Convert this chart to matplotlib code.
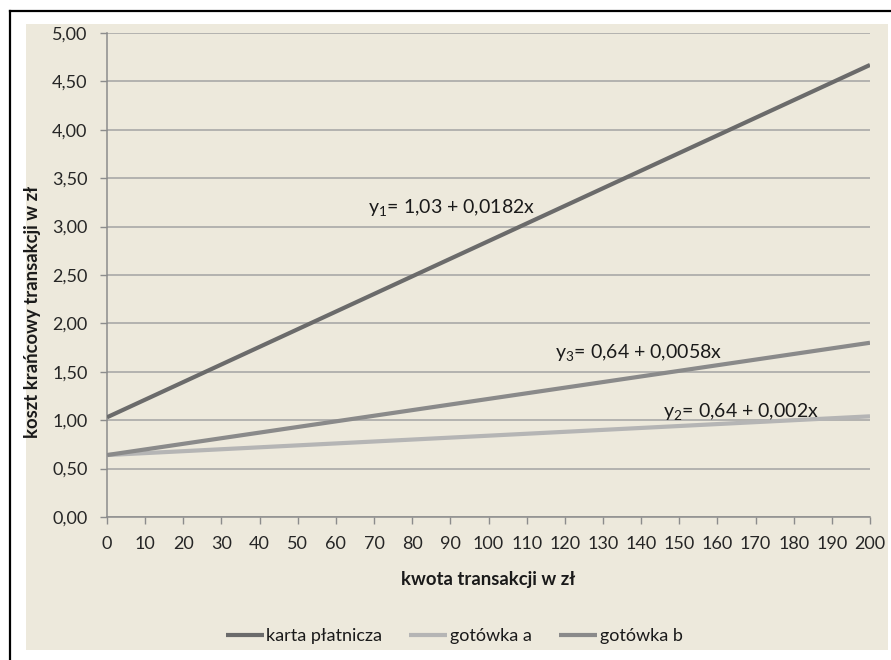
import matplotlib
matplotlib.use("Agg")
import matplotlib.pyplot as plt
from matplotlib.patches import Rectangle
from matplotlib.lines import Line2D

plt.rcParams['font.family'] = ['Lato', 'DejaVu Sans']

# Transaction amount (zł) and marginal transaction cost (zł) for each payment method
kwota = [0, 200]
karta_platnicza = [1.03, 4.67]
gotowka_a = [0.64, 1.04]
gotowka_b = [0.64, 1.80]

serie = ["karta płatnicza", "gotówka a", "gotówka b"]
x_ticks = list(range(0, 201, 10))
y_ticks = [0.0, 0.5, 1.0, 1.5, 2.0, 2.5, 3.0, 3.5, 4.0, 4.5, 5.0]

W, H = 891, 660
fig = plt.figure(figsize=(W / 100, H / 100), dpi=100)
fig.patch.set_facecolor("white")

def fx(px):
    return px / W

def fy(py):
    return 1 - py / H

# beige chart panel
fig.patches.append(Rectangle((fx(26), fy(650)), (888 - 26) / W, (650 - 24) / H,
                             transform=fig.transFigure, facecolor="#EDE9DC",
                             edgecolor="none", zorder=-5))
# frame of the surrounding document box
fig.lines.append(Line2D([fx(10), fx(10)], [fy(11), fy(662)], transform=fig.transFigure,
                        color="black", lw=1.6, zorder=-4))
fig.lines.append(Line2D([fx(10), fx(893)], [fy(11), fy(11)], transform=fig.transFigure,
                        color="black", lw=1.6, zorder=-4))

ax = fig.add_axes([fx(107), fy(517), (870 - 107) / W, (517 - 33) / H])
ax.set_facecolor("none")
ax.set_zorder(2)

colors = ["#6B6B6B", "#B5B5B5", "#8A8A8A"]
for vals, c, name in zip([karta_platnicza, gotowka_a, gotowka_b], colors, serie):
    ax.plot(kwota, vals, color=c, lw=3.0, solid_capstyle="butt", label=name, zorder=3)

ax.set_xlim(0, 200)
ax.set_ylim(0, 5)
ax.set_xticks(x_ticks)
ax.set_yticks(y_ticks)
ax.set_yticklabels([f"{v:.2f}".replace(".", ",") for v in y_ticks])
ax.set_xticklabels([str(v) for v in x_ticks])
ax.tick_params(axis="both", labelsize=13, colors="#8C8C8C", labelcolor="#262626",
               length=5, width=1)
ax.tick_params(axis="x", pad=9)
ax.tick_params(axis="y", pad=9)

ax.grid(axis="y", color="#A3A3A3", lw=1.1, zorder=1)
ax.set_axisbelow(True)
for s in ["top", "right"]:
    ax.spines[s].set_visible(False)
for s in ["left", "bottom"]:
    ax.spines[s].set_color("#8C8C8C")
    ax.spines[s].set_linewidth(1.1)

# equation labels
eq_kw = dict(fontsize=14, color="#1a1a1a", va="center", ha="left", zorder=4)
ax.text(68.4, 3.19, r"y$_{\mathregular{1}}$= 1,03 + 0,0182x", **eq_kw)
ax.text(117.4, 1.69, r"y$_{\mathregular{3}}$= 0,64 + 0,0058x", **eq_kw)
ax.text(145.7, 1.08, r"y$_{\mathregular{2}}$= 0,64 + 0,002x", **eq_kw)

# axis titles
fig.text(fx(488), fy(579), "kwota transakcji w zł", ha="center", va="center",
         fontsize=13.3, fontweight="bold", color="#1a1a1a")
fig.text(fx(33), fy(312), "koszt krańcowy transakcji w zł", ha="center", va="center",
         rotation=90, fontsize=13.3, fontweight="bold", color="#1a1a1a")

# legend
handles, labels = ax.get_legend_handles_labels()
leg = fig.legend(handles, labels, loc="center", bbox_to_anchor=(fx(454), fy(636)),
                 ncol=3, frameon=False, fontsize=13, handlelength=2.1,
                 handletextpad=0.15, columnspacing=1.5)
for t in leg.get_texts():
    t.set_color("#1a1a1a")

fig.savefig("out.png", dpi=100)
